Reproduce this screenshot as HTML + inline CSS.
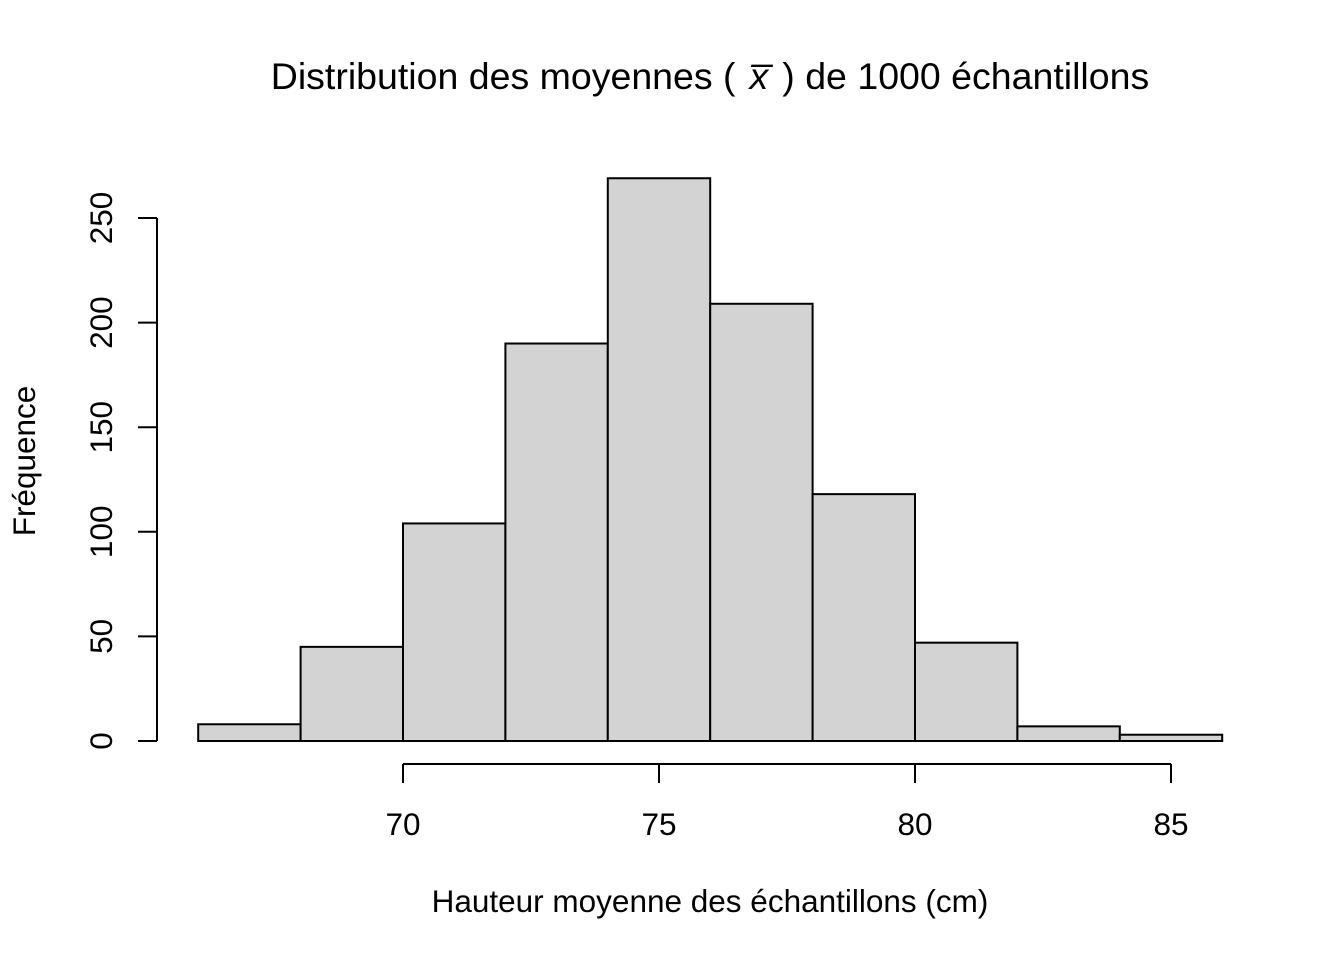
<!DOCTYPE html>
<html><head><meta charset="utf-8"><style>body{margin:0;background:#fff}svg{display:block}text{font-family:"Liberation Sans",Arial,sans-serif;fill:#000}</style></head>
<body>
<svg id="chart" width="1344" height="960" xmlns="http://www.w3.org/2000/svg">
<text x="710" y="89" font-size="37.5" text-anchor="middle">Distribution des moyennes (<tspan dx="14" font-style="italic">x̅</tspan><tspan dx="14">) de 1000 échantillons</tspan></text>
<text x="710" y="912" font-size="31.5" text-anchor="middle">Hauteur moyenne des échantillons (cm)</text>
<text transform="translate(35,461) rotate(-90)" font-size="31.5" text-anchor="middle">Fréquence</text>
<g id="bars"></g><g id="xaxis"></g><g id="yaxis"></g>
</svg>
<script>
const binStarts = [66,68,70,72,74,76,78,80,82,84];
const counts = [8,45,104,190,269,209,118,47,7,3];
const binWidth = 2;
const xTicks = [70,75,80,85];
const yTicks = [0,50,100,150,200,250];
const NS="http://www.w3.org/2000/svg";
const X=v=>403+(v-70)*51.2;
const Y=v=>741-v*2.092;
function mk(tag,attrs,parent){const e=document.createElementNS(NS,tag);for(const k in attrs)e.setAttribute(k,attrs[k]);parent.appendChild(e);return e;}
const bars=document.getElementById('bars');
binStarts.forEach((b,i)=>{
 const r=mk('rect',{x:X(b),y:Y(counts[i]),width:X(b+binWidth)-X(b),height:Y(0)-Y(counts[i]),fill:'#d3d3d3',stroke:'#000','stroke-width':2},bars);
 
 
});
const xa=document.getElementById('xaxis');
const xl=mk('line',{x1:X(xTicks[0]),x2:X(xTicks[xTicks.length-1]),y1:764,y2:764,stroke:'#000','stroke-width':2},xa);


xTicks.forEach(t=>{
 mk('line',{x1:X(t),x2:X(t),y1:764,y2:783,stroke:'#000','stroke-width':2},xa);
 const tx=mk('text',{x:X(t),y:835,'font-size':31.5,'text-anchor':'middle'},xa);tx.textContent=t;
 
 
});
const ya=document.getElementById('yaxis');
const yl=mk('line',{x1:157,x2:157,y1:Y(yTicks[yTicks.length-1]),y2:Y(0),stroke:'#000','stroke-width':2},ya);


yTicks.forEach(t=>{
 mk('line',{x1:138,x2:157,y1:Y(t),y2:Y(t),stroke:'#000','stroke-width':2},ya);
 const tx=mk('text',{transform:`translate(112,${Y(t)}) rotate(-90)`,'font-size':31.5,'text-anchor':'middle'},ya);tx.textContent=t;
 
 
});
</script>
</body></html>
